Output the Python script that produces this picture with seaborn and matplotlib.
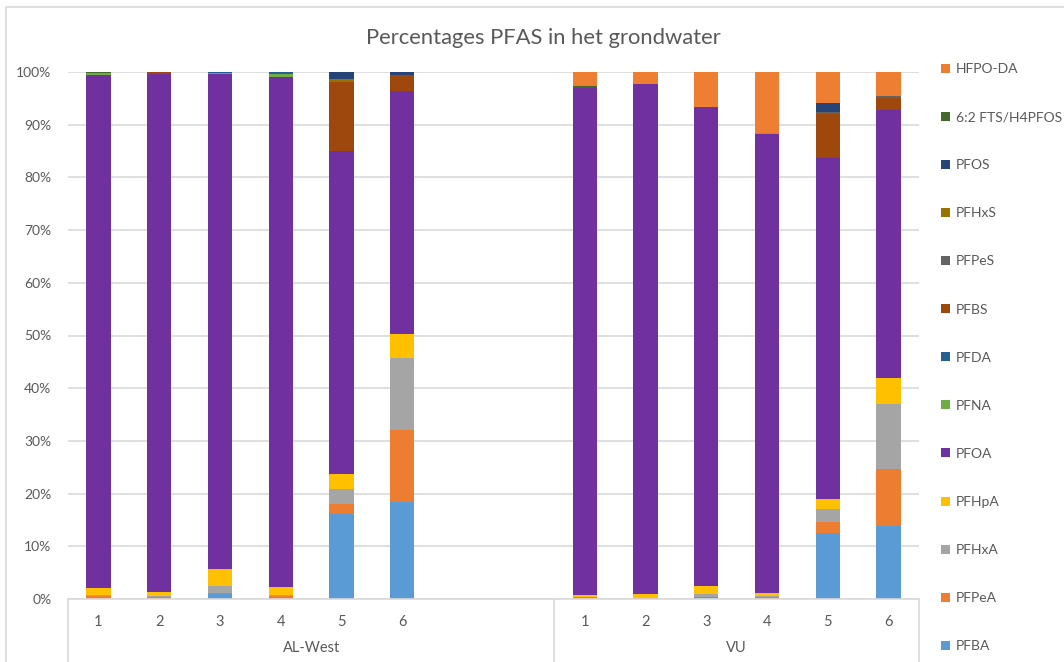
import matplotlib
matplotlib.use("Agg")
import matplotlib.pyplot as plt
from matplotlib.patches import Patch, Rectangle
from matplotlib.lines import Line2D
import matplotlib.transforms as mtransforms
import numpy as np
import pandas as pd
import seaborn as sns

# Samples: six wells at each of two locations
groups = ["AL-West", "VU"]
sample_labels = ["1", "2", "3", "4", "5", "6"]

# Share of each compound per sample (%), AL-West 1-6 then VU 1-6
compounds = ["PFBA", "PFPeA", "PFHxA", "PFHpA", "PFOA", "PFNA", "PFDA",
             "PFBS", "PFPeS", "PFHxS", "PFOS", "6:2 FTS/H4PFOS", "HFPO-DA"]
PFBA = [0.0, 0.0, 1.0, 0.0, 16.2, 18.4, 0.0, 0.0, 0.3, 0.0, 12.6, 13.9]
PFPeA = [0.5, 0.3, 0.2, 0.5, 1.9, 13.7, 0.3, 0.2, 0.1, 0.3, 2.0, 10.8]
PFHxA = [0.3, 0.2, 1.3, 0.3, 2.8, 13.7, 0.0, 0.0, 0.6, 0.3, 2.5, 12.3]
PFHpA = [1.3, 0.9, 3.1, 1.4, 2.9, 4.5, 0.4, 0.7, 1.5, 0.6, 1.9, 5.0]
PFOA = [97.3, 98.3, 94.0, 96.8, 61.3, 46.1, 96.3, 96.8, 90.9, 87.0, 64.7, 50.8]
PFNA = [0.4, 0.0, 0.2, 0.6, 0.0, 0.0, 0.0, 0.0, 0.0, 0.3, 0.0, 0.0]
PFDA = [0.0, 0.0, 0.2, 0.4, 0.0, 0.0, 0.0, 0.0, 0.0, 0.0, 0.0, 0.0]
PFBS = [0.0, 0.3, 0.0, 0.0, 13.0, 3.1, 0.0, 0.0, 0.0, 0.0, 8.3, 2.3]
PFPeS = [0.0, 0.0, 0.0, 0.0, 0.0, 0.0, 0.0, 0.0, 0.0, 0.0, 0.5, 0.4]
PFHxS = [0.0, 0.0, 0.0, 0.0, 0.6, 0.0, 0.0, 0.0, 0.0, 0.0, 0.0, 0.0]
PFOS = [0.0, 0.0, 0.0, 0.0, 1.3, 0.5, 0.0, 0.0, 0.0, 0.0, 1.6, 0.0]
FTS_62 = [0.2, 0.0, 0.0, 0.0, 0.0, 0.0, 0.3, 0.0, 0.0, 0.0, 0.0, 0.0]
HFPO_DA = [0.0, 0.0, 0.0, 0.0, 0.0, 0.0, 2.7, 2.3, 6.6, 11.5, 5.9, 4.5]

series = [PFBA, PFPeA, PFHxA, PFHpA, PFOA, PFNA, PFDA,
          PFBS, PFPeS, PFHxS, PFOS, FTS_62, HFPO_DA]

colors = ["#5B9BD5", "#ED7D31", "#A5A5A5", "#FFC000", "#7030A0", "#70AD47",
          "#255E91", "#9E480E", "#636363", "#997300", "#264478", "#43682B",
          "#EE7E32"]
palette = dict(zip(compounds, colors))

# Category slots: AL-West occupies 8 slots (last two empty), VU 6 slots
slots_per_group = [8, 6]
positions = []
start = 0
for n in slots_per_group:
    positions += list(range(start, start + len(sample_labels)))
    start += n
n_slots = start

rows = []
for comp, vals in zip(compounds, series):
    for pos, v in zip(positions, vals):
        rows.append({"pos": pos, "compound": comp, "pct": v})
df = pd.DataFrame(rows)

W, H = 1064, 662
sns.set_theme(style="white")
plt.rcParams["font.family"] = ["Lato", "DejaVu Sans"]
text_color = "#595959"
grid_color = "#D9D9D9"

fig = plt.figure(figsize=(W / 100, H / 100), dpi=100)
ax_left, ax_right, ax_top, ax_bottom = 68, 919, 72, 599
ax = fig.add_axes([ax_left / W, 1 - ax_bottom / H,
                   (ax_right - ax_left) / W, (ax_bottom - ax_top) / H])

sns.histplot(data=df, x="pos", hue="compound", weights="pct",
             hue_order=compounds[::-1], palette=palette,
             multiple="stack", discrete=True, shrink=0.4,
             alpha=1, linewidth=0, legend=False, ax=ax)

ax.set_xlim(-0.5, n_slots - 0.5)
ax.set_ylim(0, 100)
ax.set_yticks(np.arange(0, 101, 10))
ax.set_yticklabels([f"{t}%" for t in range(0, 101, 10)])
ax.yaxis.grid(True, color=grid_color, linewidth=1.2)
ax.set_axisbelow(True)
ax.set_xlabel("")
ax.set_ylabel("")
for side in ["top", "right", "left"]:
    ax.spines[side].set_visible(False)
ax.spines["bottom"].set_color(grid_color)
ax.spines["bottom"].set_linewidth(1.2)

ax.set_xticks(positions)
ax.set_xticklabels(sample_labels * len(groups))
ax.tick_params(axis="both", length=0, colors=text_color, labelsize=10)
ax.tick_params(axis="x", pad=11.5, labelsize=10.5)
ax.tick_params(axis="y", pad=12)

# Group labels and separators below the category axis
trans = mtransforms.blended_transform_factory(ax.transData, ax.transAxes)
px = 1 / (ax_bottom - ax_top)
start = 0
edges = [0]
for g, n in zip(groups, slots_per_group):
    centre = start - 0.5 + n / 2
    ax.text(centre, -49 * px, g, transform=trans, ha="center", va="center",
            color=text_color, fontsize=10.5)
    start += n
    edges.append(start)
for e in edges:
    ax.add_line(Line2D([e - 0.5, e - 0.5], [0, -0.2], transform=trans,
                       color=grid_color, linewidth=1.2, clip_on=False))

fig.text(543 / W, 1 - 38 / H, "Percentages PFAS in het grondwater",
         ha="center", va="center", color=text_color, fontsize=15.8)

# Chart frame
fig.patches.append(Rectangle((6 / W, -0.1), 2, 1 - 7 / H + 0.1,
                             transform=fig.transFigure, fill=False,
                             edgecolor=grid_color, linewidth=1.2))

handles = [Patch(facecolor=palette[c], edgecolor="none", label=c)
           for c in compounds[::-1]]
fig.legend(handles=handles, loc="upper left",
           bbox_to_anchor=(941 / W, 1 - 63 / H), frameon=False,
           fontsize=10, labelcolor=text_color, handlelength=0.62,
           handleheight=0.62, handletextpad=0.45, labelspacing=2.6,
           borderaxespad=0, borderpad=0)

fig.savefig("out.png", dpi=100)
